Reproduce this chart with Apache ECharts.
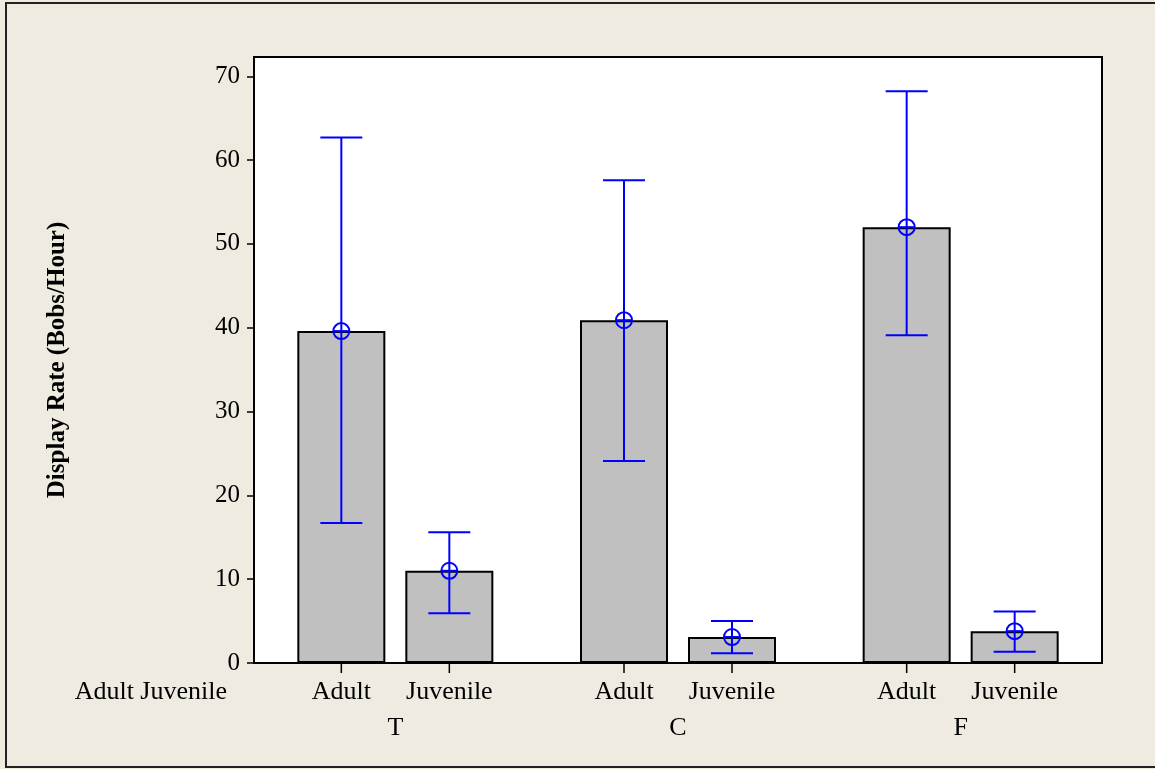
<!DOCTYPE html>
<html>
<head>
<meta charset="utf-8">
<script src="https://cdn.jsdelivr.net/npm/echarts@6/dist/echarts.min.js"></script>
<style>
html,body{margin:0;padding:0;background:#EFEBE1;}
#chart{width:1155px;height:769px;}
</style>
</head>
<body>
<div id="chart"></div>
<script>
// ---- data ----
const groups = ['T', 'C', 'F'];
const types = ['Adult', 'Juvenile'];
const adultMean = [39.6, 40.9, 52.0];
const juvenileMean = [11.0, 3.1, 3.8];
const adultUpper = [62.7, 57.6, 68.2];
const adultLower = [16.7, 24.1, 39.1];
const juvenileUpper = [15.6, 5.0, 6.15];
const juvenileLower = [5.95, 1.15, 1.35];
const yTicks = [0, 10, 20, 30, 40, 50, 60, 70];

// ---- style constants ----
const FONT = '"Liberation Serif", "Times New Roman", serif';
const BAR_W = 88;
const BAR_GAP = 20;
const BLUE = '#0000FF';

const errData = [];
groups.forEach((g, i) => {
  errData.push([i, adultMean[i], adultLower[i], adultUpper[i], 0]);
  errData.push([i, juvenileMean[i], juvenileLower[i], juvenileUpper[i], 1]);
});

function renderErr(params, api) {
  const gi = api.value(0), mean = api.value(1), lo = api.value(2), hi = api.value(3), ti = api.value(4);
  const off = (ti === 0 ? -1 : 1) * (BAR_W + BAR_GAP) / 2;
  const pm = api.coord([gi, mean]);
  const pl = api.coord([gi, lo]);
  const ph = api.coord([gi, hi]);
  const p0 = api.coord([gi, 0]);
  const x = pm[0] + off;
  const cap = 21, r = 8;
  const ls = { stroke: BLUE, lineWidth: 2, fill: null };
  return {
    type: 'group',
    children: [
      { type: 'line', shape: { x1: x, y1: pl[1], x2: x, y2: ph[1] }, style: ls },
      { type: 'line', shape: { x1: x - cap, y1: pl[1], x2: x + cap, y2: pl[1] }, style: ls },
      { type: 'line', shape: { x1: x - cap, y1: ph[1], x2: x + cap, y2: ph[1] }, style: ls },
      { type: 'circle', shape: { cx: x, cy: pm[1], r: r }, style: ls },
      { type: 'line', shape: { x1: x - r, y1: pm[1], x2: x + r, y2: pm[1] }, style: ls },
      // x tick under each bar
      { type: 'line', shape: { x1: x, y1: p0[1] + 1, x2: x, y2: p0[1] + 10 }, style: { stroke: '#000', lineWidth: 1.5 } },
      { type: 'text', style: { text: types[ti], x: x, y: p0[1] + 29, align: 'center', verticalAlign: 'middle', font: '26px ' + FONT, fill: '#000' } }
    ]
  };
}

const chart = echarts.init(document.getElementById('chart'));
chart.setOption({
  animation: false,
  backgroundColor: '#EFEBE1',
  grid: { left: 254, top: 57, right: 53, bottom: 106, show: true, backgroundColor: '#FFFFFF', borderColor: '#000', borderWidth: 2 },
  graphic: [
    { type: 'rect', shape: { x: 6, y: 3, width: 1160, height: 764 }, style: { fill: null, stroke: '#222', lineWidth: 2 }, silent: true },
    { type: 'text', style: { text: types.join(' '), x: 227, y: 692, align: 'right', verticalAlign: 'middle', font: '26px ' + FONT, fill: '#000' } }
  ],
  xAxis: {
    type: 'category',
    data: groups,
    axisLine: { show: true, lineStyle: { color: '#000', width: 2 } },
    axisTick: { show: false },
    axisLabel: { margin: 52, fontFamily: FONT, fontSize: 26, color: '#000' },
    splitLine: { show: false }
  },
  yAxis: {
    type: 'value',
    min: 0,
    max: 72.3,
    name: 'Display Rate (Bobs/Hour)',
    nameLocation: 'middle',
    nameGap: 184,
    nameTextStyle: { fontFamily: FONT, fontSize: 25, fontWeight: 'bold', color: '#000' },
    axisLine: { show: true, lineStyle: { color: '#000', width: 2 } },
    axisTick: { show: true, length: 7, lineStyle: { color: '#000', width: 1.5 }, customValues: yTicks },
    axisLabel: { margin: 14, fontFamily: FONT, fontSize: 25, color: '#000', customValues: yTicks },
    splitLine: { show: false }
  },
  series: [
    { name: types[0], type: 'bar', data: adultMean, barWidth: BAR_W, barGap: (BAR_GAP / BAR_W * 100) + '%',
      itemStyle: { color: '#C0C0C0', borderColor: '#000', borderWidth: 2 } },
    { name: types[1], type: 'bar', data: juvenileMean, barWidth: BAR_W,
      itemStyle: { color: '#C0C0C0', borderColor: '#000', borderWidth: 2 } },
    { type: 'custom', renderItem: renderErr, data: errData, clip: false, z: 10 }
  ]
});
</script>
</body>
</html>
